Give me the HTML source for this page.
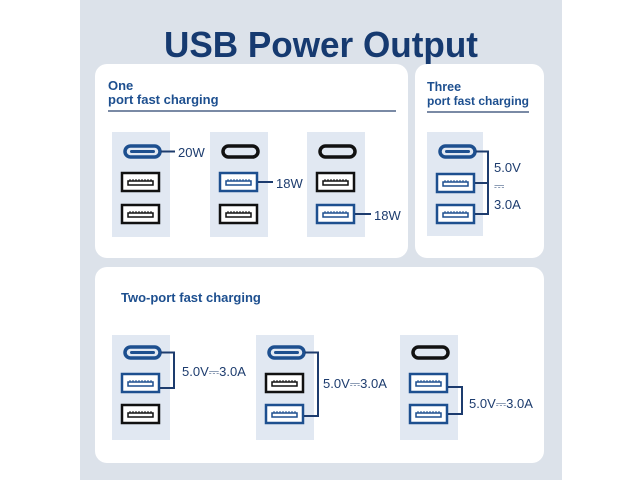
<!DOCTYPE html>
<html><head><meta charset="utf-8"><style>
html,body{margin:0;padding:0;background:#fff;}
svg{display:block;}
text{font-family:"Liberation Sans",sans-serif;}
</style></head><body>
<svg width="640" height="480" viewBox="0 0 640 480" xmlns="http://www.w3.org/2000/svg">
<defs>
<g id="cb"><rect x="0" y="0" width="35" height="11" rx="5.5" fill="none" stroke="#1d4f8f" stroke-width="3.5"/><rect x="5" y="4" width="25" height="3" rx="1.5" fill="#1d4f8f"/></g>
<g id="ck"><rect x="0" y="0" width="35" height="11" rx="5.5" fill="none" stroke="#111" stroke-width="3.5"/></g>
<g id="ab"><rect x="0" y="0" width="37" height="18" fill="#fff" stroke="#1d4f8f" stroke-width="2.5"/><rect x="6" y="8" width="25" height="4" fill="none" stroke="#1d4f8f" stroke-width="1.5"/><path d="M8 8v-2M11 8v-2M14 8v-2M17 8v-2M20 8v-2M23 8v-2M26 8v-2M29 8v-2" stroke="#1d4f8f" stroke-width="1"/></g>
<g id="ak"><rect x="0" y="0" width="37" height="18" fill="#fff" stroke="#111" stroke-width="2.5"/><rect x="6" y="8" width="25" height="4" fill="none" stroke="#111" stroke-width="1.5"/><path d="M8 8v-2M11 8v-2M14 8v-2M17 8v-2M20 8v-2M23 8v-2M26 8v-2M29 8v-2" stroke="#111" stroke-width="1"/></g>
</defs>
<rect x="80" y="0" width="482" height="480" fill="#dce2ea"/>
<text x="164" y="57" textLength="314" lengthAdjust="spacingAndGlyphs" font-size="36" font-weight="bold" fill="#163a70">USB Power Output</text>
<rect x="95" y="64" width="313" height="194" rx="12" fill="#fff"/>
<rect x="415" y="64" width="129" height="194" rx="12" fill="#fff"/>
<rect x="95" y="267" width="449" height="196" rx="12" fill="#fff"/>

<g font-size="13" font-weight="bold" fill="#1d4f8f">
<text x="108" y="90">One</text><text x="108" y="104">port fast charging</text>
<text x="427" y="91" font-size="12.5">Three</text><text x="427" y="105" font-size="12" textLength="102" lengthAdjust="spacingAndGlyphs">port fast charging</text>
<text x="121" y="302">Two-port fast charging</text>
</g>
<rect x="108" y="110" width="288" height="2" fill="#7a8aa5"/>
<rect x="427" y="111" width="102" height="2" fill="#7a8aa5"/>

<g fill="#e1e8f2">
<rect x="112" y="132" width="58" height="105"/><rect x="210" y="132" width="58" height="105"/><rect x="307" y="132" width="58" height="105"/>
<rect x="427" y="132" width="56" height="104"/>
<rect x="112" y="335" width="58" height="105"/><rect x="256" y="335" width="58" height="105"/><rect x="400" y="335" width="58" height="105"/>
</g>

<g font-size="13" fill="#1d3c6e">
<use href="#cb" x="125" y="146"/><use href="#ak" x="122" y="173"/><use href="#ak" x="122" y="205"/>
<line x1="161" y1="151.5" x2="175" y2="151.5" stroke="#1d3c6e" stroke-width="2"/><text x="178" y="157">20W</text>
<use href="#ck" x="223" y="146"/><use href="#ab" x="220" y="173"/><use href="#ak" x="220" y="205"/>
<line x1="258" y1="182" x2="273" y2="182" stroke="#1d3c6e" stroke-width="2"/><text x="276" y="188">18W</text>
<use href="#ck" x="320" y="146"/><use href="#ak" x="317" y="173"/><use href="#ab" x="317" y="205"/>
<line x1="355" y1="214" x2="371" y2="214" stroke="#1d3c6e" stroke-width="2"/><text x="374" y="220">18W</text>

<use href="#cb" x="440" y="146"/><use href="#ab" x="437" y="174"/><use href="#ab" x="437" y="205"/>
<path d="M476 151.5H488V214H475M475 183H488" fill="none" stroke="#1d3c6e" stroke-width="2"/>
<text x="494" y="172">5.0V</text><text x="494" y="190">⎓</text><text x="494" y="209">3.0A</text>

<use href="#cb" x="125" y="347"/><use href="#ab" x="122" y="374"/><use href="#ak" x="122" y="405"/>
<path d="M161 352.5H174V388H160" fill="none" stroke="#1d3c6e" stroke-width="2"/>
<text x="182" y="376">5.0V⎓3.0A</text>
<use href="#cb" x="269" y="347"/><use href="#ak" x="266" y="374"/><use href="#ab" x="266" y="405"/>
<path d="M305 352.5H318V416H304" fill="none" stroke="#1d3c6e" stroke-width="2"/>
<text x="323" y="388">5.0V⎓3.0A</text>
<use href="#ck" x="413" y="347"/><use href="#ab" x="410" y="374"/><use href="#ab" x="410" y="405"/>
<path d="M448 387H462V414H448" fill="none" stroke="#1d3c6e" stroke-width="2"/>
<text x="469" y="408">5.0V⎓3.0A</text>
</g>
</svg>
</body></html>
